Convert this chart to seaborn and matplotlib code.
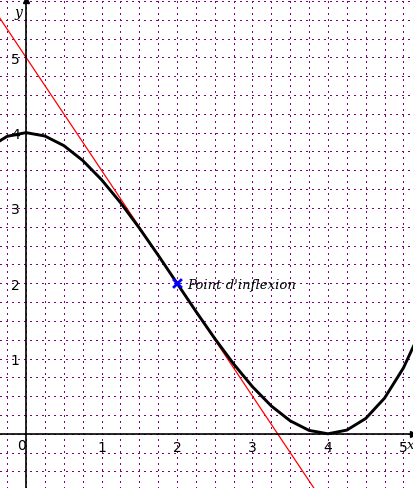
import numpy as np
import pandas as pd
import matplotlib
matplotlib.use('Agg')
import matplotlib.pyplot as plt
import seaborn as sns

# curve points
curve_x = [-0.5, -0.25, 0, 0.25, 0.5, 0.75, 1, 1.25, 1.5, 1.75, 2, 2.25, 2.5,
           2.75, 3, 3.25, 3.5, 3.75, 4, 4.25, 4.5, 4.75, 5, 5.25]
curve_y = [3.797, 3.951, 4.0, 3.955, 3.828, 3.631, 3.375, 3.072, 2.734, 2.373, 2.0,
           1.627, 1.266, 0.928, 0.625, 0.369, 0.172, 0.045, 0.0, 0.049, 0.203,
           0.474, 0.875, 1.416]
# tangent at the inflexion point
tangent_x = [-0.5, 4.0]
tangent_y = [5.75, -1.0]
inflexion_x = [2]
inflexion_y = [2]
xticks = [1, 2, 3, 4, 5]
yticks = [1, 2, 3, 4, 5]

sns.set_style('white')
plt.rcParams['font.family'] = ['DejaVu Sans']
plt.rcParams['text.color'] = 'black'
plt.rcParams['xtick.color'] = 'black'
plt.rcParams['ytick.color'] = 'black'

curve = pd.DataFrame({'x': curve_x, 'y': curve_y})
tangent = pd.DataFrame({'x': tangent_x, 'y': tangent_y})

fig = plt.figure(figsize=(4.14, 4.89), dpi=100)
ax = fig.add_axes([0, 0, 1, 1])
ax.set_xlim(-0.345, 5.14)
ax.set_ylim(-0.72, 5.775)

# grid every 0.25, dotted
ax.set_xticks(np.arange(-0.25, 5.2, 0.25), minor=True)
ax.set_yticks(np.arange(-0.5, 5.8, 0.25), minor=True)
ax.grid(which='both', color='#800080', linestyle=(0, (1.4, 4.6)), linewidth=0.72,
        antialiased=False)
ax.tick_params(which='minor', length=0)

sns.lineplot(data=tangent, x='x', y='y', ax=ax, color='red', linewidth=0.9)
sns.lineplot(data=curve, x='x', y='y', ax=ax, color='black', linewidth=2.1, sort=False)
sns.scatterplot(x=inflexion_x, y=inflexion_y, ax=ax, marker='x', color='blue',
                s=40, linewidth=2, zorder=5)
ax.text(2.13, 1.98, "Point d'inflexion", family='DejaVu Serif', style='italic',
        fontsize=9.5, va='center', ha='left', color='black')

# axes through the origin
for side in ['top', 'right']:
    ax.spines[side].set_visible(False)
ax.spines['left'].set_position(('data', 0))
ax.spines['bottom'].set_position(('data', 0))
for side in ['left', 'bottom']:
    ax.spines[side].set_linewidth(1.2)
    ax.spines[side].set_color('black')
ax.set_xticks(xticks)
ax.set_yticks(yticks)
ax.set_xticklabels([str(t) for t in xticks])
ax.set_yticklabels([str(t) for t in yticks])
ax.tick_params(which='major', direction='inout', length=7, width=1, labelsize=10,
               pad=1, colors='black', labelcolor='black')
ax.set_xlabel('')
ax.set_ylabel('')

ax.plot([0], [5.76], marker='^', color='black', markersize=4, clip_on=False)
ax.plot([5.13], [0], marker='>', color='black', markersize=4, clip_on=False)
ax.text(-0.06, -0.05, '0', fontsize=10, ha='center', va='top', color='black')
ax.text(5.05, -0.05, 'x', fontsize=9.5, family='DejaVu Serif', style='italic',
        ha='left', va='top', color='black')
ax.text(-0.05, 5.7, 'y', fontsize=10, family='DejaVu Serif', style='italic',
        ha='right', va='top', color='black')

fig.savefig('out.png', dpi=100)
